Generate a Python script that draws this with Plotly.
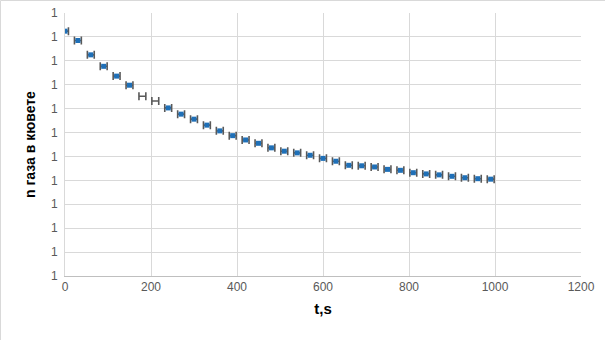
import plotly.graph_objects as go

# time, s
t_s = [0, 30, 60, 90, 120, 150, 180, 210, 240, 270, 300, 330, 360, 390, 420, 450,
       480, 510, 540, 570, 600, 630, 660, 690, 720, 750, 780, 810, 840, 870, 900,
       930, 960, 990]
# n газа в кювете
n_gas = [1.001024, 1.000985, 1.000925, 1.000877, 1.000836, 1.000798, 1.000752,
         1.000732, 1.000703, 1.000677, 1.000656, 1.000631, 1.000607, 1.000587,
         1.000569, 1.000555, 1.000536, 1.000522, 1.000515, 1.000505, 1.000492,
         1.000480, 1.000463, 1.000461, 1.000456, 1.000446, 1.000442, 1.000432,
         1.000427, 1.000423, 1.000417, 1.000411, 1.000407, 1.000405]
# horizontal error, s
t_err = [8] * len(t_s)
# points drawn without a marker
no_marker_t = [180, 210]

x_ticks = [0, 200, 400, 600, 800, 1000, 1200]
y_ticks = [1.0 + i * 0.0001 for i in range(12)]
y_ticklabels = ["1"] * 12

marker_colors = ["rgba(0,0,0,0)" if t in no_marker_t else "#1F70B8" for t in t_s]

fig = go.Figure()
fig.add_trace(go.Scatter(
    x=t_s, y=n_gas, mode="markers",
    marker=dict(symbol="square", size=5, color=marker_colors, line=dict(width=0)),
    error_x=dict(type="data", array=t_err, visible=True, color="#595959",
                 thickness=1.6, width=4),
    showlegend=False,
))

grid = "#D9D9D9"
pw, ph = 516, 263
fig.update_layout(
    width=605, height=340,
    margin=dict(l=65, r=24, t=13, b=64, autoexpand=False),
    paper_bgcolor="white", plot_bgcolor="white",
    font=dict(family="Liberation Sans, Arial, sans-serif", size=12, color="#595959"),
    xaxis=dict(
        range=[0, 1200], tickvals=x_ticks, ticktext=[str(v) for v in x_ticks],
        showgrid=True, gridcolor=grid, gridwidth=1, automargin=False,
        showline=True, linecolor="#BFBFBF", linewidth=1,
        zeroline=False, ticks="", ticklen=0,
        tickfont=dict(size=12, color="#595959"),
        title=dict(text="t,s", font=dict(size=15, color="black",
                   family="Liberation Sans, Arial, sans-serif", weight="bold"),
                   standoff=10),
    ),
    yaxis=dict(
        range=[1.0, 1.0011], tickvals=y_ticks, ticktext=y_ticklabels,
        showgrid=True, gridcolor=grid, gridwidth=1, automargin=False,
        showline=True, linecolor="#D9D9D9", linewidth=1,
        zeroline=False, ticks="", ticklen=0, ticklabelstandoff=4,
        tickfont=dict(size=12, color="#595959"),
        title=dict(text="n газа в кювете", font=dict(size=14, color="black",
                   family="Liberation Sans, Arial, sans-serif", weight="bold"),
                   standoff=12),
    ),
    shapes=[
        dict(type="line", xref="paper", yref="paper",
             x0=(0.5 - 65) / pw, x1=(605 - 65) / pw,
             y0=(276 - 0.5) / ph, y1=(276 - 0.5) / ph,
             line=dict(color="#D9D9D9", width=1)),
        dict(type="line", xref="paper", yref="paper",
             x0=(0.5 - 65) / pw, x1=(0.5 - 65) / pw,
             y0=(276 - 340) / ph, y1=(276 - 0.5) / ph,
             line=dict(color="#D9D9D9", width=1)),
    ],
)

fig.write_html("out.html")
